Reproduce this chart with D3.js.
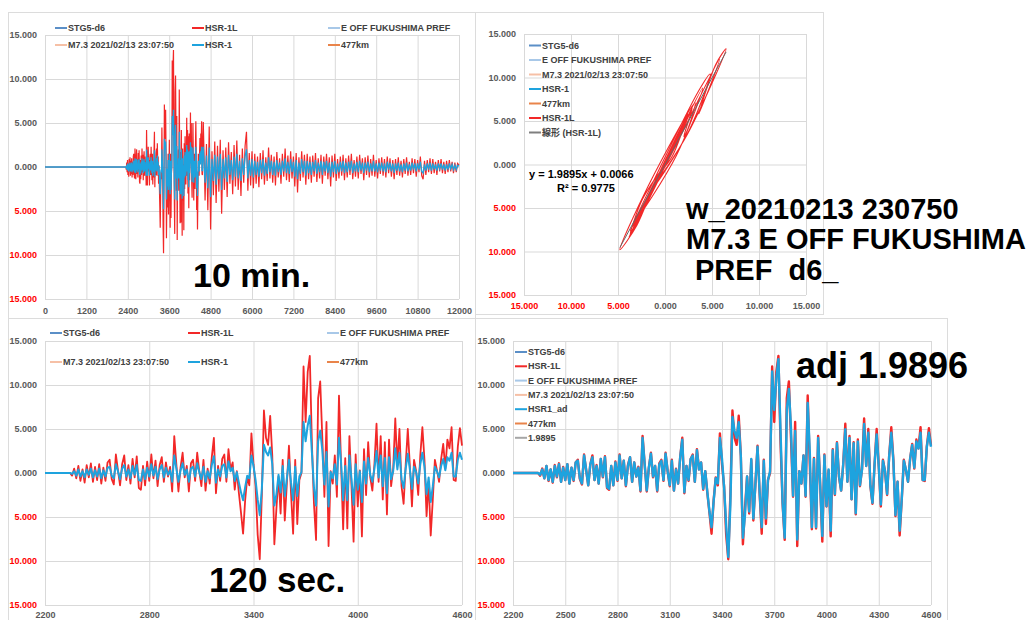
<!DOCTYPE html>
<html><head><meta charset="utf-8">
<script src="https://cdn.jsdelivr.net/npm/d3@7"></script>
<style>
html,body{margin:0;padding:0;background:#fff;}
svg{display:block;font-family:"Liberation Sans",Arial,"Noto Sans CJK JP",sans-serif;}
</style></head>
<body><svg id="chart" width="1032" height="620"></svg>
<script>
// ---- Record window 2200..4600, one value every 12 samples ----
const winStart = 2200, winStep = 12;
const hsr1L_win = [
 0,0,0,0,0,0,0,0,0,0,0,0,
 0,-0.3,0.5,-0.6,0.8,-0.9,0.4,-1.1,0.9,-0.5,
 1.1,-1.0,0.7,-0.8,1.0,-1.2,0.6,-0.9,1.2,1.5,
 -0.7,-1.3,2.1,0.3,-1.4,1.0,2.0,-0.8,0.9,-1.2,
 1.6,-0.5,1.9,-1.7,-1.9,0.8,-1.4,1.3,-0.9,2.1,
 -0.6,1.4,-1.5,0.9,1.8,-1.0,1.2,-0.4,0.7,-2.1,
 4.2,1.0,-2.1,0.6,2.3,-0.5,0.8,-2.1,1.1,1.5,
 -0.9,2.3,0.2,-1.5,1.5,-2.0,0.5,-1.2,1.8,4.0,
 -2.3,0.8,-0.9,1.6,2.1,-1.0,2.7,0.4,1.2,-1.9,
 0.2,-2.3,-4.5,-6.9,-3.1,-0.5,-1.4,4.5,1.0,-1.5,
 -7.0,-9.8,-2.5,7.1,4.0,3.2,6.5,2.0,-8.1,-4.0,
 -0.4,-4.6,1.5,-5.4,-1.2,3.1,-2.3,-6.9,1.5,-5.8,
 -0.8,0.0,12.1,5.8,11.5,13.3,3.5,-3.5,-7.6,8.5,
 10.4,4.0,-2.7,5.8,-8.3,0.2,-1.2,2.0,-2.7,8.8,
 1.0,-6.4,1.7,-6.3,4.2,-1.5,-7.8,2.1,-3.8,0.3,
 -7.2,2.7,-2.5,3.5,-0.5,-2.0,1.0,5.6,-1.0,4.2,
 -3.0,3.5,-4.7,3.8,-1.5,0.5,6.2,0.8,5.0,-1.5,
 -3.5,1.0,5.0,0.8,-3.8,1.5,0.2,-2.5,2.0,5.2,
 1.5,-4.9,-1.0,-7.1,-3.0,1.5,0.3,-1.0,1.6,3.3,
 0.5,3.8,2.8,5.2,-0.8,-0.9,3.0,5.1,3.1
];
const hsr1_win = [
 0,0,0,0,0,0,0,0,0,0,0,0,
 0,-0.1,0.2,-0.3,0.4,-0.4,0.2,-0.5,0.4,-0.2,
 0.5,-0.5,0.3,-0.4,0.5,-0.6,0.3,-0.4,0.6,0.7,
 -0.3,-0.6,1.0,0.2,-0.7,0.5,0.9,-0.4,0.4,-0.6,
 0.8,-0.2,0.9,-0.8,-0.9,0.4,-0.7,0.6,-0.4,1.0,
 -0.3,0.7,-0.7,0.4,0.9,-0.5,0.6,-0.2,0.3,-1.0,
 2.0,0.5,-1.0,0.3,1.1,-0.2,0.4,-1.0,0.5,0.7,
 -0.4,1.1,0.1,-0.7,0.7,-1.0,0.2,-0.6,0.9,1.9,
 -1.1,0.4,-0.4,0.8,1.0,-0.5,1.3,0.2,0.6,-0.9,
 0.1,-1.1,-2.2,-3.1,-1.6,-0.3,-0.6,2.0,0.8,-0.8,
 -3.0,-4.8,-1.8,3.2,2.4,2.0,2.9,1.0,-3.7,-2.4,
 -0.2,-2.2,0.8,-2.6,-0.6,1.5,-1.1,-3.1,0.7,-2.6,
 -0.4,0.1,5.8,3.6,5.4,6.5,2.4,-1.7,-3.7,3.6,
 4.8,2.6,-1.3,2.4,-3.8,0.1,-0.6,1.0,-1.3,4.0,
 1.2,-3.1,0.8,-3.1,2.0,-0.7,-3.6,1.0,-1.9,0.2,
 -3.3,1.3,-1.2,1.7,-0.2,-1.0,0.5,2.5,-0.5,2.0,
 -1.5,1.7,-2.3,1.8,-0.7,0.2,2.8,0.4,2.3,-0.7,
 -1.7,0.5,2.2,0.4,-1.8,0.7,0.1,-1.2,1.0,2.3,
 0.7,-2.4,-0.5,-3.3,-1.5,0.7,0.2,-0.5,0.8,1.6,
 0.3,1.8,1.4,2.3,-0.4,-0.4,1.5,2.3,1.5
];
// ---- Coda 4640..12000, one value every 40 samples ----
const tailStart = 4640, tailStep = 40;
const hsr1L_tail = [
 -3.8,2.6,-4.9,4.6,-7.1,1.8,-3.2,2.9,-4.1,
 2.4,-2.8,3.1,-5.3,1.9,-2.6,2.2,-3.4,2.8,-1.9,
 1.7,-3.1,2.5,-2.2,3.0,-2.6,1.4,-3.3,2.1,-1.8,
 2.4,4.0,-2.7,1.6,-2.1,1.8,-2.4,1.5,-1.9,1.2,
 -2.3,1.6,-1.4,1.9,-2.0,1.1,-1.6,2.2,-1.3,1.4,
 -1.8,1.2,-2.1,1.7,-1.2,1.0,-1.9,1.5,-1.1,2.1,
 -1.5,1.3,-1.7,1.8,-1.3,1.2,-2.2,1.6,-2.9,1.1,
 -1.6,1.8,-1.2,1.4,-2.0,1.5,-1.4,1.2,-1.8,1.3,
 -1.1,1.6,-1.7,1.0,-1.3,1.4,-1.9,1.2,-1.0,1.5,
 -1.4,1.1,-2.2,1.3,-1.2,1.5,-1.6,0.9,-1.3,1.2,
 -1.0,1.4,-1.5,1.0,-1.2,1.3,-0.9,1.5,-1.4,0.8,
 -1.1,1.2,-1.3,1.4,-0.8,1.0,-1.5,1.1,-0.9,1.3,
 -1.2,0.9,-1.0,1.4,-1.1,0.8,-1.3,1.0,-0.8,1.1,
 -1.0,0.9,-1.2,1.2,-0.7,1.0,-1.1,0.8,-1.4,0.9,
 -0.9,1.1,-1.0,0.7,-1.2,0.9,-0.8,1.1,-1.0,0.6,
 -0.9,1.0,-0.7,0.9,-1.1,0.8,-0.6,1.2,-1.0,-1.4,
 0.7,-0.9,0.8,-0.6,1.0,-0.8,0.9,-0.7,0.6,-0.9,
 0.8,-0.5,0.9,-0.7,0.6,-0.8,0.7,-0.6,0.8,-0.5,
 0.6,-0.7,0.5,-0.6,0.4,0.2
];
const hsr1_tail = [
 -1.8,1.3,-2.4,2.2,-3.4,0.9,-1.6,1.4,-2.0,
 1.2,-1.4,1.5,-2.6,0.9,-1.3,1.1,-1.7,1.4,-0.9,
 0.8,-1.5,1.2,-1.1,1.5,-1.3,0.7,-1.6,1.0,-0.9,
 1.2,2.0,-1.3,0.8,-1.0,0.9,-1.2,0.7,-0.9,0.6,
 -1.1,0.8,-0.7,0.9,-1.0,0.5,-0.8,1.1,-0.6,0.7,
 -0.9,0.6,-1.0,0.8,-0.6,0.5,-0.9,0.7,-0.5,1.0,
 -0.7,0.6,-0.8,0.9,-0.6,0.6,-1.1,0.8,-1.4,0.5,
 -0.8,0.9,-0.6,0.7,-1.0,0.7,-0.7,0.6,-0.9,0.6,
 -0.5,0.8,-0.8,0.5,-0.6,0.7,-0.9,0.6,-0.5,0.7,
 -0.7,0.5,-1.1,0.6,-0.6,0.7,-0.8,0.4,-0.6,0.6,
 -0.5,0.7,-0.7,0.5,-0.6,0.6,-0.4,0.7,-0.7,0.4,
 -0.5,0.6,-0.6,0.7,-0.4,0.5,-0.7,0.5,-0.4,0.6,
 -0.6,0.4,-0.5,0.7,-0.5,0.4,-0.6,0.5,-0.4,0.5,
 -0.5,0.4,-0.6,0.6,-0.3,0.5,-0.5,0.4,-0.7,0.4,
 -0.4,0.5,-0.5,0.3,-0.6,0.4,-0.4,0.5,-0.5,0.3,
 -0.4,0.5,-0.3,0.4,-0.5,0.4,-0.3,0.6,-0.5,-0.7,
 0.3,-0.4,0.4,-0.3,0.5,-0.4,0.4,-0.3,0.3,-0.4,
 0.4,-0.2,0.4,-0.3,0.3,-0.4,0.3,-0.3,0.4,-0.2,
 0.3,-0.3,0.2,-0.3,0.2,0.1
];
// scaling factor applied to HSR-1 and the linear fit of HSR-1L on HSR-1
const adjFactor = 1.9896;
const fitSlope = 1.9895, fitIntercept = 0.0066, fitR2 = 0.9775;

// ---- Axis ticks ----
const yTicks = [-15, -10, -5, 0, 5, 10, 15];
const xTicksFull = [0, 1200, 2400, 3600, 4800, 6000, 7200, 8400, 9600, 10800, 12000];
const xTicks120 = [2200, 2800, 3400, 4000, 4600];
const xTicksAdj = [2200, 2500, 2800, 3100, 3400, 3700, 4000, 4300, 4600];
const xTicksScatter = [-15, -10, -5, 0, 5, 10, 15];

// ---- Legend entries ----
const C = {
  stg: "#5b8fc7", red: "#f22828", eoff: "#a8c8e8", m73: "#f6c0a6",
  blue: "#1ea3de", km: "#e9844a", fit: "#7f7f7f", k19: "#a6a6a6"
};
const legendTime = [
  ["STG5-d6", C.stg], ["HSR-1L", C.red], ["E OFF FUKUSHIMA PREF", C.eoff],
  ["M7.3 2021/02/13 23:07:50", C.m73], ["HSR-1", C.blue], ["477km", C.km]
];
const legendScatter = [
  ["STG5-d6", C.stg], ["E OFF FUKUSHIMA PREF", C.eoff], ["M7.3 2021/02/13 23:07:50", C.m73],
  ["HSR-1", C.blue], ["477km", C.km], ["HSR-1L", C.red], ["線形 (HSR-1L)", C.fit]
];
const legendAdj = [
  ["STG5-d6", C.stg], ["HSR-1L", C.red], ["E OFF FUKUSHIMA PREF", C.eoff],
  ["M7.3 2021/02/13 23:07:50", C.m73], ["HSR1_ad", C.blue], ["477km", C.km], ["1.9895", C.k19]
];
const titleLines = ["w_20210213 230750", "M7.3 E OFF FUKUSHIMA", "PREF  d6_"];

// ---- Assemble records ----
const win = hsr1L_win.map((v, i) => ({ t: winStart + i * winStep, l: v, h: hsr1_win[i] }));
const tail = hsr1L_tail.map((v, i) => ({ t: tailStart + i * tailStep, l: v, h: hsr1_tail[i] }));
const full = [{ t: 0, l: 0, h: 0 }].concat(win, tail);

const svg = d3.select("#chart");
const POS = "#595959", NEG = "#ff0000";
const fmt3 = d => Math.abs(d).toFixed(3);

function frame(x, y, w, h) {
  svg.append("rect").attr("x", x + 0.5).attr("y", y + 0.5).attr("width", w).attr("height", h)
    .attr("fill", "none").attr("stroke", "#dcdcdc").attr("stroke-width", 1);
}

function panel(o) {
  const x = d3.scaleLinear().domain(o.xDomain).range([o.left, o.right]);
  const y = d3.scaleLinear().domain([-15, 15]).range([o.bottom, o.top]);
  const g = svg.append("g");
  const styleAxis = (s, colorFn) => {
    s.select(".domain").remove();
    s.attr("font-family", null).attr("font-size", null);
    s.selectAll(".tick line").attr("stroke", "#d9d9d9").attr("stroke-width", 1);
    s.selectAll(".tick text").attr("fill", colorFn).attr("font-size", 9).attr("font-weight", "bold");
  };
  g.append("g").attr("transform", `translate(${o.left},0)`)
    .call(d3.axisLeft(y).tickValues(yTicks).tickSize(-(o.right - o.left)).tickPadding(8).tickFormat(fmt3))
    .call(s => styleAxis(s, d => d < 0 ? NEG : POS));
  g.append("g").attr("transform", `translate(0,${o.bottom})`)
    .call(d3.axisBottom(x).tickValues(o.xTicks).tickSize(-(o.bottom - o.top)).tickPadding(o.xPad).tickFormat(o.xFmt))
    .call(s => styleAxis(s, o.xColor || (() => POS)));
  return { x, y, g };
}

function legend(items, pts) {
  const g = svg.append("g");
  items.forEach(([name, col], i) => {
    const p = pts[i];
    g.append("line").attr("x1", p[0]).attr("x2", p[0] + 12).attr("y1", p[1]).attr("y2", p[1])
      .attr("stroke", col).attr("stroke-width", 2);
    g.append("text").attr("x", p[0] + 13).attr("y", p[1]).attr("dominant-baseline", "central")
      .attr("font-size", 9).attr("font-weight", "bold").attr("fill", "#404040").text(name);
  });
}

function bigText(x, y, size, str) {
  svg.append("text").attr("x", x).attr("y", y).attr("font-size", size).attr("font-weight", "bold")
    .attr("fill", "#000").style("white-space", "pre").text(str);
}

// chart area borders
frame(8, 12, 467, 306);
frame(475, 12, 348, 302);
frame(8, 318, 467, 304);
frame(475, 318, 472, 304);

// ---- Panel 1: full 10 minute record ----
{
  const p = panel({ xDomain: [0, 12000], left: 45, right: 459, top: 35, bottom: 299,
    xTicks: xTicksFull, xFmt: d3.format("d"), xPad: 9 });
  p.g.append("path").datum(full).attr("fill", "none").attr("stroke", C.red).attr("stroke-width", 1.2)
    .attr("d", d3.line().x(d => p.x(d.t)).y(d => p.y(d.l)));
  p.g.append("path").datum(full).attr("fill", "none").attr("stroke", C.blue).attr("stroke-width", 1.3)
    .attr("d", d3.line().x(d => p.x(d.t)).y(d => p.y(d.h)));
  legend(legendTime, [[55, 28], [192, 28], [328, 28], [55, 45], [192, 45], [328, 45]]);
  bigText(193, 287, 34, "10 min.");
}

// ---- Panel 2: HSR-1L against HSR-1 ----
{
  const p = panel({ xDomain: [-15, 15], left: 524, right: 806, top: 34, bottom: 295,
    xTicks: xTicksScatter, xFmt: fmt3, xPad: 8, xColor: d => d < 0 ? NEG : POS });
  p.g.append("path").datum(full).attr("fill", "none").attr("stroke", C.red).attr("stroke-width", 1.1)
    .attr("d", d3.line().x(d => p.x(d.h)).y(d => p.y(d.l)).curve(d3.curveCatmullRom));
  const ext = d3.extent(full, d => d.h);
  p.g.append("line")
    .attr("x1", p.x(ext[0])).attr("y1", p.y(fitSlope * ext[0] + fitIntercept))
    .attr("x2", p.x(ext[1])).attr("y2", p.y(fitSlope * ext[1] + fitIntercept))
    .attr("stroke", "#666").attr("stroke-width", 1);
  legend(legendScatter, legendScatter.map((d, i) => [529, 45.5 + i * 14.5]));
  svg.append("text").attr("x", 529).attr("y", 178).attr("font-size", 11).attr("font-weight", "bold")
    .text(`y = ${fitSlope}x + ${fitIntercept}`);
  svg.append("text").attr("x", 586).attr("y", 192).attr("text-anchor", "middle").attr("font-size", 11)
    .attr("font-weight", "bold").text(`R² = ${fitR2}`);
}

// ---- Panel 3: 120 second window ----
{
  const p = panel({ xDomain: [2200, 4600], left: 45, right: 462, top: 341, bottom: 605,
    xTicks: xTicks120, xFmt: d3.format("d"), xPad: 7 });
  p.g.append("path").datum(win).attr("fill", "none").attr("stroke", C.red).attr("stroke-width", 1.8)
    .attr("stroke-linejoin", "round")
    .attr("d", d3.line().x(d => p.x(d.t)).y(d => p.y(d.l)));
  p.g.append("path").datum(win).attr("fill", "none").attr("stroke", C.blue).attr("stroke-width", 2)
    .attr("stroke-linejoin", "round")
    .attr("d", d3.line().x(d => p.x(d.t)).y(d => p.y(d.h)));
  legend(legendTime, [[50, 333], [188, 333], [327, 333], [50, 362], [188, 362], [327, 362]]);
  bigText(209, 592, 35, "120 sec.");
}

// ---- Panel 4: HSR-1 scaled by the adjustment factor ----
{
  const p = panel({ xDomain: [2200, 4600], left: 513, right: 931, top: 341, bottom: 605,
    xTicks: xTicksAdj, xFmt: d3.format("d"), xPad: 7 });
  p.g.append("path").datum(win).attr("fill", "none").attr("stroke", C.red).attr("stroke-width", 2.4)
    .attr("stroke-linejoin", "round")
    .attr("d", d3.line().x(d => p.x(d.t)).y(d => p.y(d.l)));
  p.g.append("path").datum(win).attr("fill", "none").attr("stroke", C.blue).attr("stroke-width", 2.4)
    .attr("stroke-linejoin", "round")
    .attr("d", d3.line().x(d => p.x(d.t)).y(d => p.y(d.h * adjFactor)));
  legend(legendAdj, legendAdj.map((d, i) => [515, 352 + i * 14.3]));
  bigText(796, 378, 36, `adj ${adjFactor}`);
}

// event caption
bigText(686, 219, 29, titleLines[0]);
bigText(686, 249, 29, titleLines[1]);
bigText(695, 280, 29, titleLines[2]);
</script>
</body></html>
